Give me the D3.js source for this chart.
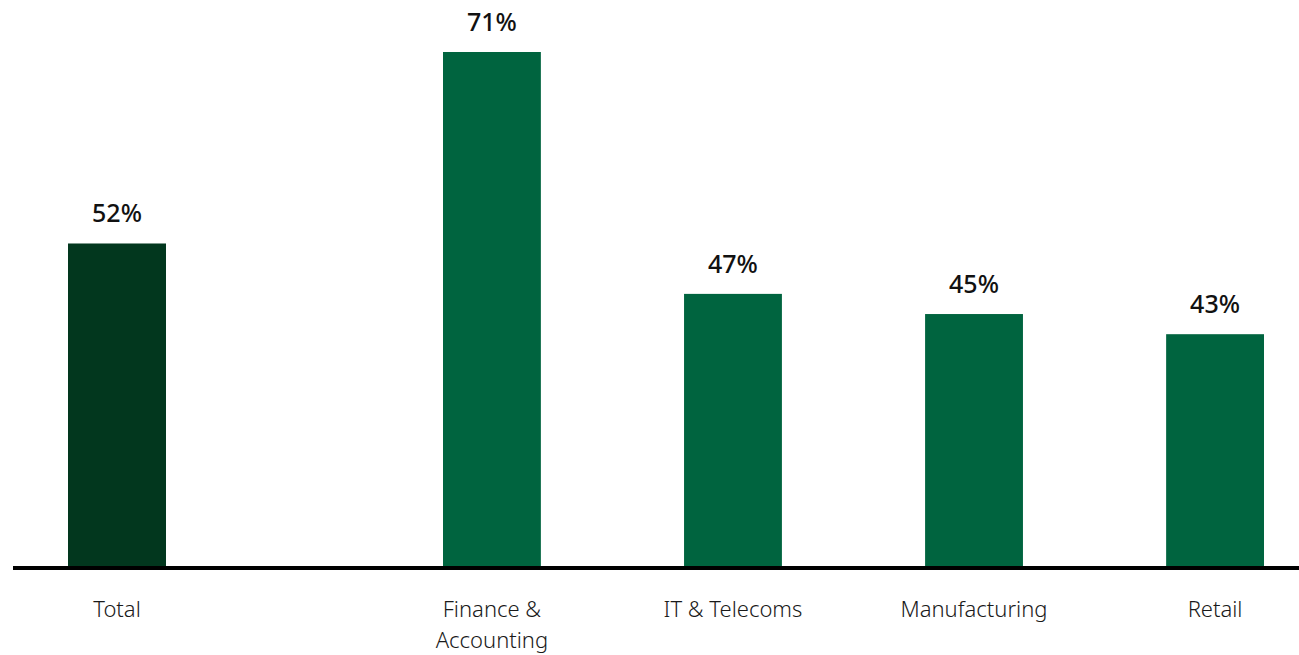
<!DOCTYPE html>
<html>
<head>
<meta charset="utf-8">
<script src="https://cdn.jsdelivr.net/npm/d3@7"></script>
<style>
  html, body { margin: 0; padding: 0; background: #fff; }
  svg { display: block; }
  .val { font-family: "Noto Sans", sans-serif; font-size: 25px; font-weight: 500; fill: #111; }
  .cat { font-family: "Noto Sans", sans-serif; font-size: 22px; font-weight: 300; fill: #1a1a1a; }
</style>
</head>
<body>
<svg id="chart" width="1299" height="655"></svg>
<script>
// Share of respondents by sector
const totalLabel = ["Total"];
const totalValue = [52];
const sectors = [["Finance &", "Accounting"], ["IT & Telecoms"], ["Manufacturing"], ["Retail"]];
const sectorValues = [71, 47, 45, 43];

const W = 1299, H = 655;
const baseY = 566;
const svg = d3.select("#chart");

const y = d3.scaleLinear().domain([20, 71]).range([baseY, 52]);

// Total sits on its own, set apart from the sector group
const xTotal = d3.scaleBand().domain(totalLabel).range([68, 166]).padding(0);
const sectorKeys = sectors.map(s => s.join(" "));
const xSector = d3.scaleBand().domain(sectorKeys).range([443, 1264])
  .paddingInner(0.594).paddingOuter(0);

const bars = [
  { key: totalLabel[0], lines: totalLabel, value: totalValue[0], x: xTotal(totalLabel[0]), w: xTotal.bandwidth(), color: "#02371e" },
  ...sectors.map((s, i) => ({
    key: sectorKeys[i], lines: s, value: sectorValues[i],
    x: xSector(sectorKeys[i]), w: xSector.bandwidth(), color: "#00643f"
  }))
];

svg.selectAll("rect.bar").data(bars).join("rect")
  .attr("class", "bar")
  .attr("x", d => d.x)
  .attr("width", d => d.w)
  .attr("y", d => y(d.value))
  .attr("height", d => baseY - y(d.value) + 2)
  .attr("fill", d => d.color);

svg.selectAll("text.val").data(bars).join("text")
  .attr("class", "val")
  .attr("x", d => d.x + d.w / 2)
  .attr("y", d => y(d.value) - 21)
  .attr("text-anchor", "middle")
  .text(d => d.value + "%");

// Baseline
svg.append("line")
  .attr("x1", 13).attr("x2", W)
  .attr("y1", baseY + 2).attr("y2", baseY + 2)
  .attr("stroke", "#000").attr("stroke-width", 4);

// Category labels
const cats = svg.selectAll("text.cat").data(bars).join("text")
  .attr("class", "cat")
  .attr("text-anchor", "middle")
  .attr("x", d => d.x + d.w / 2)
  .attr("y", 617);
cats.selectAll("tspan").data(d => d.lines.map(l => ({ l, cx: d.x + d.w / 2 }))).join("tspan")
  .attr("x", t => t.cx)
  .attr("dy", (t, i) => i === 0 ? 0 : 31)
  .text(t => t.l);
</script>
</body>
</html>
